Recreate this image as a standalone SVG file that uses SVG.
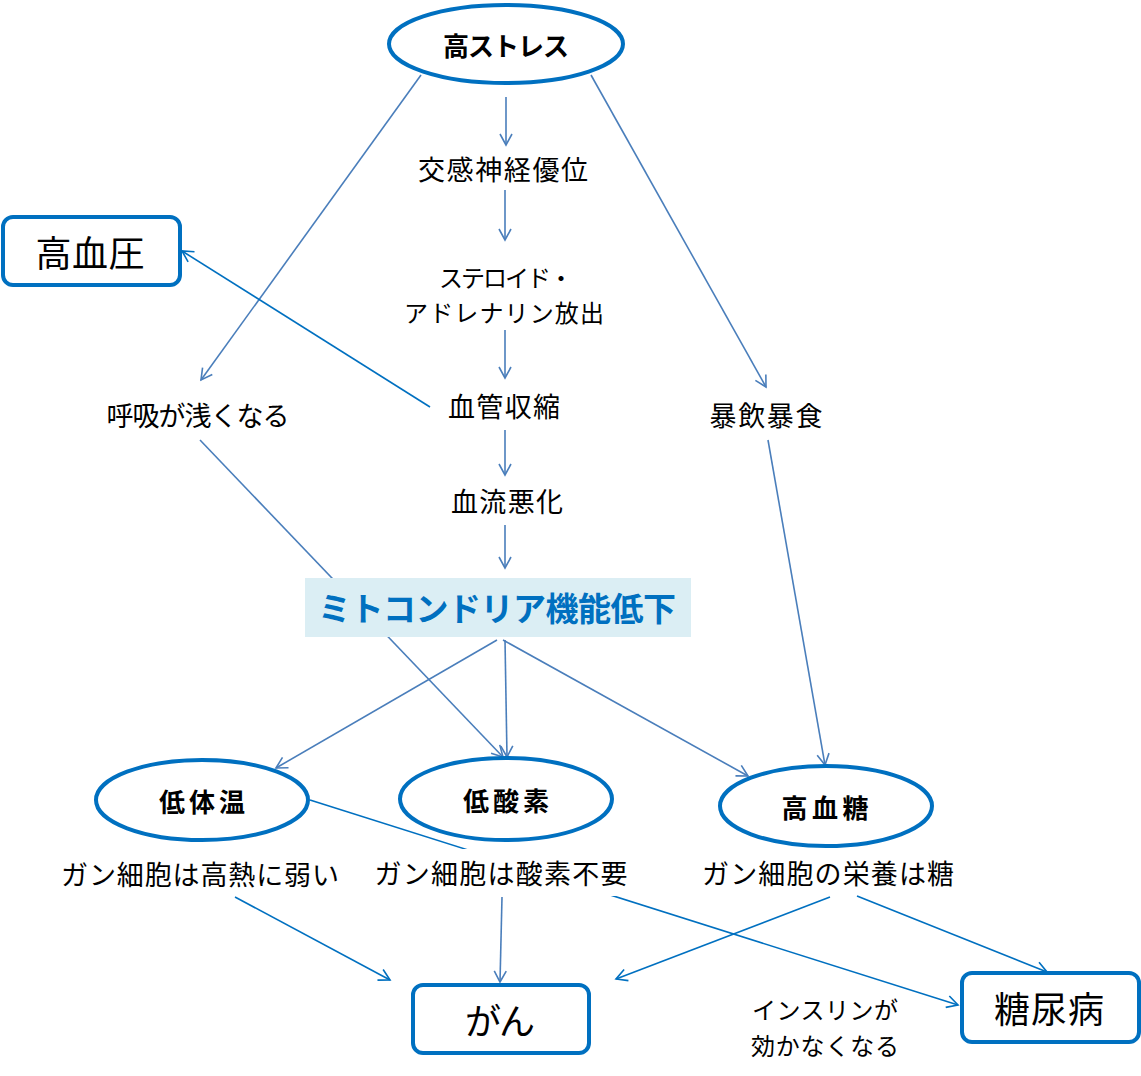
<svg xmlns="http://www.w3.org/2000/svg" width="1141" height="1076" viewBox="0 0 1141 1076">
<defs>
<style>
.t{font-family:"Noto Sans CJK JP","Liberation Sans",sans-serif;fill:#000;text-anchor:middle;dominant-baseline:central}
.l{font-size:27px}
.b{font-size:26px;font-weight:bold}
.big{font-size:36px}
.node{fill:#fff;stroke:#0070c0;stroke-width:4}
.s{stroke:#4a7ebb;stroke-width:1.6;fill:none;marker-end:url(#as)}
.d{stroke:#0070c0;stroke-width:1.6;fill:none;marker-end:url(#ad)}
.mask{fill:#fff}
</style>
<marker id="as" markerUnits="userSpaceOnUse" markerWidth="14" markerHeight="14" refX="12" refY="7" orient="auto">
<path d="M1,1 L12,7 L1,13" fill="none" stroke="#4a7ebb" stroke-width="1.6"/>
</marker>
<marker id="ad" markerUnits="userSpaceOnUse" markerWidth="14" markerHeight="14" refX="12" refY="7" orient="auto">
<path d="M1,1 L12,7 L1,13" fill="none" stroke="#0070c0" stroke-width="1.6"/>
</marker>
</defs>
<rect width="1141" height="1076" fill="#fff"/>

<g id="connectors">
<line class="s" x1="506" y1="97" x2="506" y2="145"/>
<line class="s" x1="505" y1="190" x2="505" y2="240"/>
<line class="s" x1="505" y1="330" x2="505" y2="378"/>
<line class="s" x1="505" y1="430" x2="505" y2="475"/>
<line class="s" x1="505" y1="525" x2="505" y2="568"/>
<line class="s" x1="421" y1="75" x2="201" y2="380"/>
<line class="s" x1="591" y1="75" x2="766" y2="387"/>
<line class="d" x1="430" y1="407" x2="182" y2="251"/>
<line class="s" x1="768" y1="440" x2="825" y2="765"/>
<line class="s" x1="200" y1="440" x2="503" y2="757"/>
<line class="s" x1="497" y1="640" x2="276" y2="768"/>
<line class="s" x1="505" y1="640" x2="507" y2="757"/>
<line class="s" x1="503" y1="640" x2="748" y2="776"/>
<line class="d" x1="310" y1="800" x2="958" y2="1005"/>
</g>

<g id="n-mito">
<rect x="305" y="578" width="386" height="59" fill="#dbeef4"/>
<text class="t" x="497" y="607" textLength="358" lengthAdjust="spacing" style="font-size:33px;font-weight:bold;fill:#0070c0">ミトコンドリア機能低下</text>
</g>

<g id="n-stress">
<ellipse class="node" cx="506" cy="44" rx="117" ry="39"/>
<text class="t b" x="506" y="44" textLength="126" lengthAdjust="spacing">高ストレス</text>
</g>
<g id="n-kouketsuatsu">
<rect class="node" x="3" y="217" width="177" height="68" rx="10"/>
<text class="t big" x="90" y="251" textLength="109" lengthAdjust="spacing">高血圧</text>
</g>
<g id="n-koukan"><text class="t l" x="503" y="168" textLength="170" lengthAdjust="spacing">交感神経優位</text></g>
<g id="n-steroid">
<text class="t" x="506" y="276" textLength="134" lengthAdjust="spacing" style="font-size:24px">ステロイド・</text>
<text class="t" x="504" y="311" textLength="200" lengthAdjust="spacing" style="font-size:24px">アドレナリン放出</text>
</g>
<g id="n-kekkan"><text class="t l" x="504" y="405" textLength="112" lengthAdjust="spacing">血管収縮</text></g>
<g id="n-ketsuryu"><text class="t l" x="507" y="500" textLength="112" lengthAdjust="spacing">血流悪化</text></g>
<g id="n-kokyu"><text class="t l" x="198" y="414" textLength="183" lengthAdjust="spacing">呼吸が浅くなる</text></g>
<g id="n-bouin"><text class="t l" x="766" y="414" textLength="113" lengthAdjust="spacing">暴飲暴食</text></g>

<g id="n-teitaion">
<ellipse class="node" cx="202" cy="800" rx="106" ry="40"/>
<text class="t b" x="202" y="800" textLength="86" lengthAdjust="spacing">低体温</text>
</g>
<g id="n-teisanso">
<ellipse class="node" cx="506" cy="799" rx="106" ry="41"/>
<text class="t b" x="506" y="799" textLength="86" lengthAdjust="spacing">低酸素</text>
</g>
<g id="n-kouketto">
<ellipse class="node" cx="826" cy="806" rx="106" ry="40"/>
<text class="t b" x="825" y="806" textLength="87" lengthAdjust="spacing">高血糖</text>
</g>

<g id="n-note1"><text class="t l" x="200" y="873" textLength="278" lengthAdjust="spacing">ガン細胞は高熱に弱い</text></g>
<g id="n-note2">
<rect class="mask" x="372" y="849" width="258" height="47"/>
<text class="t l" x="501" y="872" textLength="253" lengthAdjust="spacing">ガン細胞は酸素不要</text>
</g>
<g id="n-note3"><text class="t l" x="828" y="872" textLength="252" lengthAdjust="spacing">ガン細胞の栄養は糖</text></g>

<g id="connectors2">
<line class="d" x1="235" y1="897" x2="390" y2="980"/>
<line class="s" x1="502" y1="897" x2="500" y2="982"/>
<line class="d" x1="830" y1="897" x2="616" y2="979"/>
<line class="d" x1="857" y1="896" x2="1047" y2="972"/>
</g>

<g id="n-gan">
<rect class="node" x="413" y="985" width="176" height="68" rx="10"/>
<text class="t big" x="500" y="1019" textLength="70" lengthAdjust="spacing">がん</text>
</g>
<g id="n-tounyou">
<rect class="node" x="962" y="973" width="177" height="69" rx="10"/>
<text class="t big" x="1049" y="1007" textLength="110" lengthAdjust="spacing">糖尿病</text>
</g>
<g id="n-insulin">
<text class="t" x="825" y="1008" textLength="146" lengthAdjust="spacing" style="font-size:24px">インスリンが</text>
<text class="t" x="825" y="1044" textLength="148" lengthAdjust="spacing" style="font-size:24px">効かなくなる</text>
</g>
</svg>
